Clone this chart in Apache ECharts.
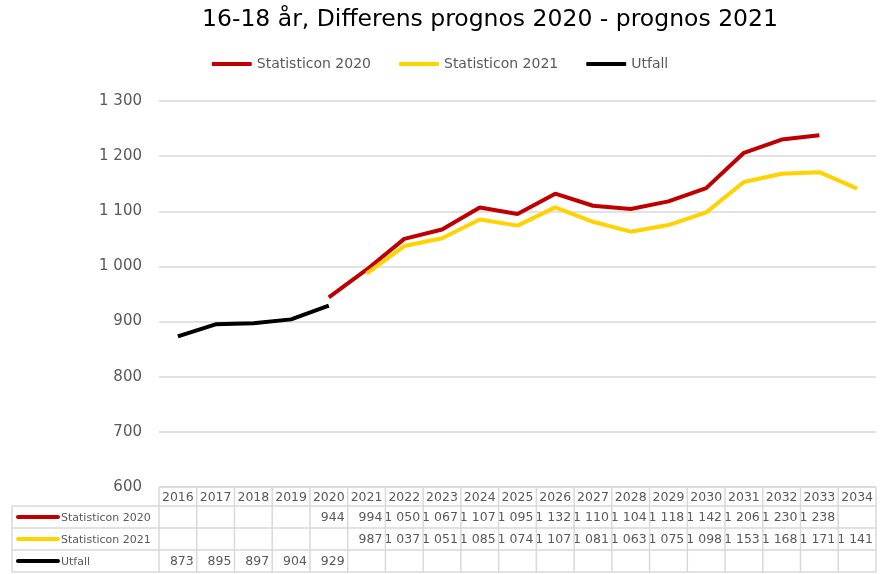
<!DOCTYPE html>
<html>
<head>
<meta charset="utf-8">
<script src="https://cdn.jsdelivr.net/npm/echarts@6/dist/echarts.min.js"></script>
<style>
  html, body { margin: 0; padding: 0; background: #fff; }
  #main { width: 880px; height: 574px; }
</style>
</head>
<body>
<div id="main"></div>
<script>
// data
var years = ["2016", "2017", "2018", "2019", "2020", "2021", "2022", "2023", "2024", "2025",
  "2026", "2027", "2028", "2029", "2030", "2031", "2032", "2033", "2034"];
var statisticon2020 = [null, null, null, null, 944, 994, 1050, 1067, 1107, 1095,
  1132, 1110, 1104, 1118, 1142, 1206, 1230, 1238, null];
var statisticon2021 = [null, null, null, null, null, 987, 1037, 1051, 1085, 1074,
  1107, 1081, 1063, 1075, 1098, 1153, 1168, 1171, 1141];
var utfall = [873, 895, 897, 904, 929, null, null, null, null, null,
  null, null, null, null, null, null, null, null, null];
var yTicks = [600, 700, 800, 900, 1000, 1100, 1200, 1300];

var rows = [
  { name: "Statisticon 2020", color: "#c00000", data: statisticon2020 },
  { name: "Statisticon 2021", color: "#ffd200", data: statisticon2021 },
  { name: "Utfall", color: "#000000", data: utfall }
];

var FONT = "DejaVu Sans";
var TXT = "#595959";
var BORDER = "#d9d9d9";

function fmt(v) {
  return String(v).replace(/\B(?=(\d{3})+(?!\d))/g, " ");
}

var chart = echarts.init(document.getElementById("main"));

var option = {
  animation: false,
  backgroundColor: "#fff",
  textStyle: { fontFamily: FONT },
  title: {
    text: "16-18 år, Differens prognos 2020 - prognos 2021",
    left: 197,
    top: 3,
    textStyle: { fontFamily: FONT, fontSize: 23.5, fontWeight: "normal", color: "#000" }
  },
  legend: {
    top: 52,
    left: "center",
    itemWidth: 40,
    itemHeight: 4,
    itemGap: 28,
    icon: "roundRect",
    textStyle: { color: TXT, fontSize: 14, fontFamily: FONT },
    data: rows.map(function (r) { return r.name; })
  },
  grid: { left: 159, right: 4, top: 101, bottom: 87 },
  xAxis: {
    type: "category",
    data: years,
    boundaryGap: true,
    axisLine: { show: false },
    axisTick: { show: false },
    axisLabel: { show: false }
  },
  yAxis: {
    type: "value",
    min: yTicks[0],
    max: yTicks[yTicks.length - 1],
    interval: 100,
    axisLine: { show: false },
    axisTick: { show: false },
    axisLabel: {
      color: TXT, fontSize: 15, fontFamily: FONT, margin: 17,
      formatter: function (v) { return fmt(v); }
    },
    splitLine: { lineStyle: { color: BORDER, width: 1.5 } }
  },
  series: rows.map(function (r) {
    return {
      name: r.name,
      type: "line",
      data: r.data,
      symbol: "none",
      connectNulls: false,
      itemStyle: { color: r.color },
      lineStyle: { color: r.color, width: 4 }
    };
  })
};

chart.setOption(option);

// data table below the plot
function buildTable() {
  var g = [];
  var x0 = chart.convertToPixel({ xAxisIndex: 0 }, years[0]);
  var x1 = chart.convertToPixel({ xAxisIndex: 0 }, years[1]);
  var cw = x1 - x0;
  var left = x0 - cw / 2;
  var right = left + cw * years.length;
  var top = chart.convertToPixel({ yAxisIndex: 0 }, yTicks[0]);
  var headH = 19, rowH = 22;
  var labelLeft = 12;

  function line(xa, ya, xb, yb) {
    g.push({ type: "line", silent: true,
      shape: { x1: xa, y1: ya, x2: xb, y2: yb },
      style: { stroke: BORDER, lineWidth: 1.5 } });
  }
  function text(t, x, y, align, size) {
    g.push({ type: "text", silent: true, x: x, y: y,
      style: { text: t, fill: TXT, font: size + "px '" + FONT + "'",
        align: align, verticalAlign: "middle" } });
  }

  // header
  line(left, top, right, top);
  years.forEach(function (y, i) {
    text(y, left + cw * i + cw / 2, top + headH / 2 + 1, "center", 12.5);
  });
  var yb = top + headH;
  line(labelLeft, yb, right, yb);
  for (var r = 0; r < rows.length; r++) {
    var ry = yb + rowH * r;
    line(labelLeft, ry + rowH, right, ry + rowH);
    g.push({ type: "line", silent: true,
      shape: { x1: labelLeft + 6, y1: ry + rowH / 2, x2: labelLeft + 46, y2: ry + rowH / 2 },
      style: { stroke: rows[r].color, lineWidth: 4, lineCap: "round" } });
    text(rows[r].name, labelLeft + 49, ry + rowH / 2 + 1, "left", 11);
    rows[r].data.forEach(function (v, i) {
      if (v !== null) text(fmt(v), left + cw * (i + 1) - 3, ry + rowH / 2 + 1, "right", 12.5);
    });
  }
  var bottom = yb + rowH * rows.length;
  line(labelLeft, yb, labelLeft, bottom);
  for (var i = 0; i <= years.length; i++) {
    line(left + cw * i, top, left + cw * i, bottom);
  }
  return g;
}

chart.setOption({ graphic: buildTable() });
</script>
</body>
</html>
